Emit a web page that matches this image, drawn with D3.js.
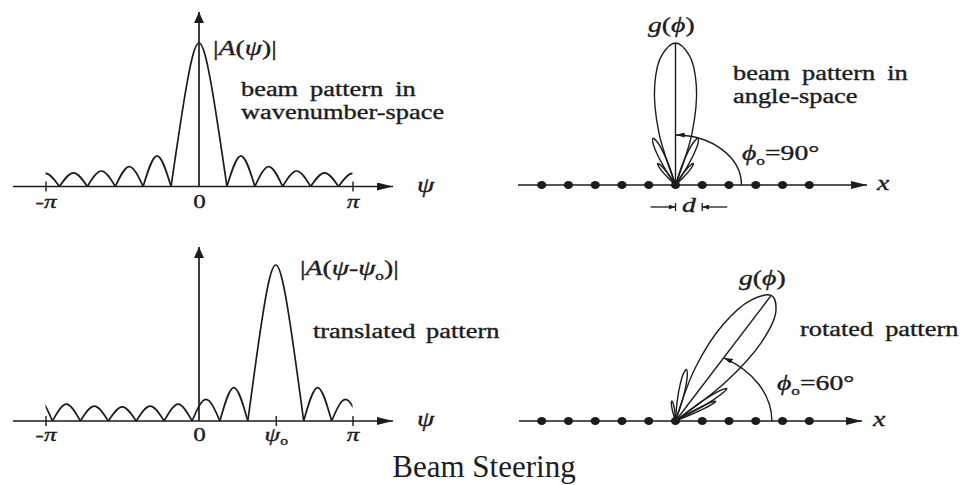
<!DOCTYPE html>
<html><head><meta charset="utf-8">
<script src="https://cdn.jsdelivr.net/npm/d3@7"></script>
<style>body{margin:0;background:#fff}svg{display:block}</style>
</head><body>
<svg id="c" width="963" height="485"></svg>
<script>
// ---------------- data ----------------
// |A(psi)| lobes over one period, psi in units of pi
const psiNulls  = [-0.909, -0.727, -0.545, -0.364, -0.182, 0.182, 0.364, 0.545, 0.727, 0.909, 1.091];
const lobePeaks = [0.095, 0.108, 0.139, 0.214, 1.0, 0.214, 0.139, 0.108, 0.095, 0.091];
const mainLobeFrac  = [0, 0.25, 0.5, 0.75, 1];
const mainLobeShape = [0, 0.64, 1, 0.64, 0];
const psiShifts = [0, 0.5];                 // psi0 / pi for the two wavenumber panels
const ticksTop  = [-1, 0, 1];
const tickLabelsTop = ["-π", "0", "π"];
const ticksBot  = [-1, 0, 0.5, 1];
const tickLabelsBot = ["-π", "0", "ψ₀", "π"];

// array and polar patterns
const elementIdx = [-5, -4, -3, -2, -1, 0, 1, 2, 3, 4, 5];
const steerAngles = [90, 60];
const lobesBroadside = [
  {a: 90, g: 1.00, w: 18}, {a: 110, g: 0.35, w: 8}, {a: 70, g: 0.35, w: 8},
  {a: 122, g: 0.18, w: 8}, {a: 58, g: 0.18, w: 8}];
const lobesSteered = [
  {a: 60, g: 1.00, w: 19}, {a: 81, g: 0.36, w: 7}, {a: 40, g: 0.35, w: 7},
  {a: 98, g: 0.14, w: 7}, {a: 33, g: 0.25, w: 6}];
const lobeProfileF = [-1, -0.75, -0.5, -0.25, 0, 0.25, 0.5, 0.75, 1];
const lobeProfileR = [0, 0.38, 0.71, 0.92, 1, 0.92, 0.71, 0.38, 0];

// texts
const txtTopLeft = ["|A(ψ)|", "beam pattern in", "wavenumber-space"];
const txtBotLeft = ["|A(ψ-ψ₀)|", "translated pattern"];
const txtTopRight = ["g(ϕ)", "beam pattern in", "angle-space", "ϕ₀=90°"];
const txtBotRight = ["g(ϕ)", "rotated pattern", "ϕ₀=60°"];
const caption = "Beam Steering";

// ---------------- drawing ----------------
const INK = "#1c1c1c";
const SX = 1.32;
const SERIF = "'Liberation Serif','Times New Roman','DejaVu Serif',serif";
const svg = d3.select("#c");
const defs = svg.append("defs");

function marker(id, w, h){
  defs.append("marker").attr("id", id).attr("viewBox", "0 0 10 10")
    .attr("preserveAspectRatio", "none")
    .attr("refX", 10).attr("refY", 5).attr("markerWidth", w).attr("markerHeight", h)
    .attr("markerUnits", "userSpaceOnUse").attr("orient", "auto")
    .append("path").attr("d", "M0,0L10,5L0,10Z").attr("fill", INK);
}
marker("arrH", 16, 8);
marker("arrV", 11, 10);
marker("arrS", 7, 5);

function mathParts(s){
  const parts = [];
  for (const ch of s){
    if (ch === "₀") parts.push({t: "o", sub: true});
    else if (/[A-Za-zπψϕ]/.test(ch)) parts.push({t: ch, i: true});
    else parts.push({t: ch});
  }
  return parts;
}
function fillText(sel, parts, size){
  let wasSub = false;
  parts.forEach(p => {
    const s = sel.append("tspan").text(p.t);
    if (p.i) s.attr("font-style", "italic");
    if (p.sub){ s.attr("font-size", size*0.62).attr("dy", size*0.22); wasSub = true; }
    else if (wasSub){ s.attr("dy", -size*0.22); wasSub = false; }
  });
}
function baseText(x, y, opt){
  const size = opt.size || 20;
  const t = svg.append("text")
    .attr("transform", `translate(${x},${y}) scale(${opt.sx ?? SX},1)`)
    .attr("font-family", SERIF).attr("font-size", size).attr("fill", INK)
    .attr("stroke", INK).attr("stroke-width", opt.sw ?? 0.35);
  if (opt.anchor) t.attr("text-anchor", opt.anchor);
  if (opt.ws) t.attr("word-spacing", opt.ws);
  return t;
}
function label(x, y, str, opt = {}){
  const t = baseText(x, y, opt);
  fillText(t, opt.math ? mathParts(str) : [{t: str}], opt.size || 20);
  return t;
}

// ---- wavenumber-space panels ----
const xPsi = d3.scaleLinear().domain([-1, 1]).range([45.5, 352.5]);
function leftPanel(cfg, idx){
  const y = d3.scaleLinear().domain([0, 1]).range([cfg.axisY, cfg.peakY]);
  const g = svg.append("g");
  const clipId = "clip" + idx;
  defs.append("clipPath").attr("id", clipId).append("rect")
    .attr("x", xPsi(-1)).attr("y", 0).attr("width", xPsi(1) - xPsi(-1)).attr("height", 485);
  const line = d3.line().x(d => xPsi(d[0])).y(d => y(d[1])).curve(d3.curveNatural);
  const cg = g.append("g").attr("clip-path", `url(#${clipId})`);
  [-2, 0, 2].forEach(k => {
    lobePeaks.forEach((p, i) => {
      const a = psiNulls[i] + cfg.shift + k, b = psiNulls[i + 1] + cfg.shift + k;
      if (b < -1 || a > 1) return;
      const pts = p === 1
        ? mainLobeFrac.map((f, j) => [a + (b - a) * f, mainLobeShape[j]])
        : [[a, 0], [(a + b) / 2, p], [b, 0]];
      cg.append("path").attr("d", line(pts)).attr("fill", "none")
        .attr("stroke", INK).attr("stroke-width", 1.7);
    });
  });
  // axes
  g.append("line").attr("x1", 13).attr("x2", 393).attr("y1", cfg.axisY).attr("y2", cfg.axisY)
    .attr("stroke", INK).attr("stroke-width", 1.7).attr("marker-end", "url(#arrH)");
  g.append("line").attr("x1", xPsi(0)).attr("x2", xPsi(0)).attr("y1", cfg.axisY).attr("y2", cfg.vTip)
    .attr("stroke", INK).attr("stroke-width", 1.7).attr("marker-end", "url(#arrV)");
  const ax = d3.axisBottom(xPsi).tickValues(cfg.ticks).tickSize(5).tickFormat((d, i) => cfg.labels[i]);
  const axg = g.append("g").attr("transform", `translate(0,${cfg.axisY})`).call(ax);
  axg.select(".domain").remove();
  axg.attr("font-family", SERIF).attr("font-size", 19);
  axg.selectAll(".tick line").attr("y1", -5).attr("stroke", INK).attr("stroke-width", 1.4)
    .attr("display", d => d === 0 ? "none" : null);
  axg.selectAll(".tick text").each(function(d, i){
    const t = d3.select(this);
    t.text(null).attr("y", null).attr("dy", null).attr("fill", INK)
      .attr("stroke", INK).attr("stroke-width", 0.35)
      .attr("transform", `translate(0,${cfg.labelOff}) scale(${SX},1)`);
    fillText(t, mathParts(cfg.labels[i]), 19);
  });
  label(417, cfg.axisY + 5, "ψ", {math: true, size: 21});
}
leftPanel({axisY: 186.5, peakY: 43, vTip: 12, shift: psiShifts[0], ticks: ticksTop, labels: tickLabelsTop, labelOff: 21}, 0);
leftPanel({axisY: 421, peakY: 265, vTip: 247, shift: psiShifts[1], ticks: ticksBot, labels: tickLabelsBot, labelOff: 19.5}, 1);

label(213, 55, txtTopLeft[0], {math: true, size: 21});
label(241, 96, txtTopLeft[1], {ws: 4});
label(241, 119, txtTopLeft[2]);
label(300, 275, txtBotLeft[0], {math: true, size: 21});
label(313, 338, txtBotLeft[1], {ws: 3});

// ---- angle-space panels ----
const xEl = d3.scaleLinear().domain([-5, 5]).range([541.7, 809.3]);
function rightPanel(cfg){
  const g = svg.append("g");
  const ox = xEl(0), oy = cfg.axisY;
  const r = d3.scaleLinear().domain([0, 1]).range([0, cfg.R]);
  g.append("line").attr("x1", cfg.lineStart).attr("x2", cfg.lineEnd).attr("y1", oy).attr("y2", oy)
    .attr("stroke", INK).attr("stroke-width", 1.7).attr("marker-end", "url(#arrH)");
  const pg = g.append("g").attr("transform", `translate(${ox},${oy}) scale(${SX},1)`);
  const radial = d3.lineRadial().angle(d => d[0]).radius(d => d[1]).curve(d3.curveCatmullRom);
  const rad = deg => (90 - deg) * Math.PI / 180;
  cfg.lobes.forEach(L => {
    const pts = lobeProfileF.map((f, j) => [rad(L.a + f * L.w), r(L.g * lobeProfileR[j])]);
    pg.append("path").attr("d", radial(pts)).attr("fill", "none").attr("stroke", INK)
      .attr("stroke-width", 1.4).attr("vector-effect", "non-scaling-stroke");
  });
  const main = cfg.lobes[0];
  pg.append("line").attr("x1", 0).attr("y1", 0)
    .attr("x2", r(1) * Math.cos(main.a * Math.PI / 180)).attr("y2", -r(1) * Math.sin(main.a * Math.PI / 180))
    .attr("stroke", INK).attr("stroke-width", 1.4).attr("vector-effect", "non-scaling-stroke");
  const p = d3.path();
  p.moveTo(cfg.arcR, 0);
  p.arc(0, 0, cfg.arcR, 0, -cfg.steer * Math.PI / 180, true);
  pg.append("path").attr("d", p.toString()).attr("fill", "none").attr("stroke", INK)
    .attr("stroke-width", 1.4).attr("vector-effect", "non-scaling-stroke").attr("marker-end", "url(#arrS)");
  g.selectAll("ellipse.el").data(elementIdx).join("ellipse")
    .attr("cx", d => xEl(d)).attr("cy", oy).attr("rx", 4.6).attr("ry", 4).attr("fill", INK);
  label(cfg.xLab, oy + 5, "x", {math: true, size: 21});
}
rightPanel({axisY: 185, lineStart: 518, lineEnd: 867, R: 142, arcR: 50, steer: steerAngles[0], lobes: lobesBroadside, xLab: 877});
rightPanel({axisY: 421, lineStart: 519, lineEnd: 862, R: 145, arcR: 73, steer: steerAngles[1], lobes: lobesSteered, xLab: 873});

// element spacing marker
const dy = 207;
svg.append("line").attr("x1", xEl(0) - 25).attr("x2", xEl(0)).attr("y1", dy).attr("y2", dy)
  .attr("stroke", INK).attr("stroke-width", 1.3).attr("marker-end", "url(#arrS)");
svg.append("line").attr("x1", xEl(1) + 25).attr("x2", xEl(1)).attr("y1", dy).attr("y2", dy)
  .attr("stroke", INK).attr("stroke-width", 1.3).attr("marker-end", "url(#arrS)");
[xEl(0), xEl(1)].forEach(xx => svg.append("line").attr("x1", xx).attr("x2", xx)
  .attr("y1", dy - 4).attr("y2", dy + 4).attr("stroke", INK).attr("stroke-width", 1.3));
label((xEl(0) + xEl(1)) / 2, 212, "d", {math: true, anchor: "middle", size: 21});

label(648, 32, txtTopRight[0], {math: true, size: 21});
label(733, 80, txtTopRight[1], {ws: 4});
label(733, 103, txtTopRight[2]);
label(742, 160, txtTopRight[3], {math: true, size: 21});
label(739, 285, txtBotRight[0], {math: true, size: 21});
label(800, 336, txtBotRight[1], {ws: 4});
label(777, 390, txtBotRight[2], {math: true, size: 21});

label(484, 477, caption, {size: 31, sx: 1, anchor: "middle", sw: 0});
</script>
</body></html>
